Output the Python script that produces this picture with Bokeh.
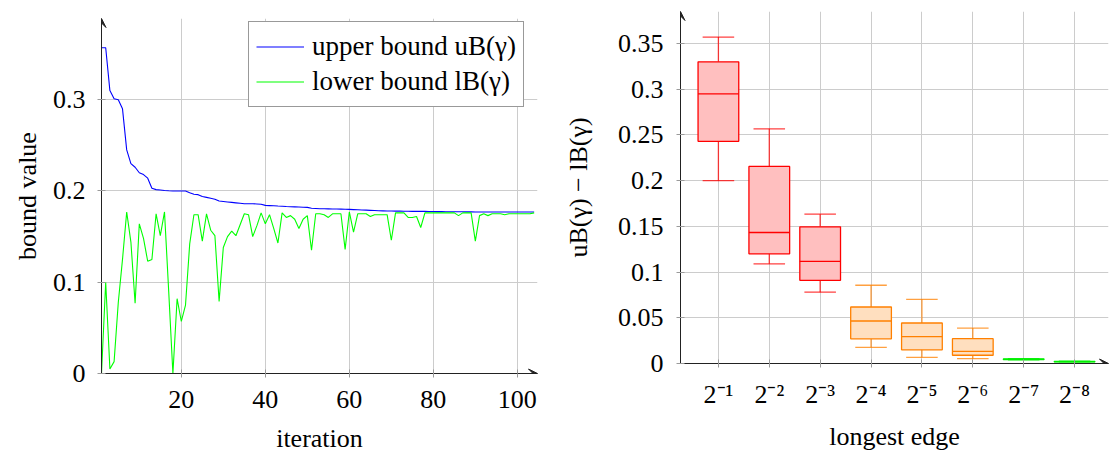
from bokeh.plotting import figure
from bokeh.layouts import row
from bokeh.models import (Legend, LegendItem, FixedTicker, NumeralTickFormatter,
                          Arrow, VeeHead, Range1d, ColumnDataSource)
from bokeh.embed import file_html
from bokeh.resources import INLINE
import sys

FONT = "Liberation Serif"

# ---------------- data: left chart ----------------
iterations = list(range(1, 105))
upper_bound = [
    0.357, 0.357, 0.310, 0.301, 0.300, 0.290, 0.245, 0.230, 0.226, 0.220,
    0.218, 0.214, 0.203, 0.2015, 0.201, 0.2005, 0.2002, 0.200, 0.200, 0.200,
    0.200, 0.198, 0.1965, 0.196, 0.194, 0.193, 0.192, 0.191, 0.189, 0.1885,
    0.188, 0.1875, 0.187, 0.1865, 0.186, 0.186, 0.186, 0.1858, 0.1855, 0.1842,
    0.184, 0.1838, 0.1835, 0.1833, 0.183, 0.1828, 0.1826, 0.1824, 0.1822, 0.182,
    0.181, 0.1808, 0.1806, 0.1805, 0.1804, 0.1803, 0.1802, 0.1801, 0.180, 0.1798,
    0.1796, 0.1794, 0.1792, 0.179, 0.1788, 0.1786, 0.1784, 0.1782, 0.178, 0.178,
    0.1779, 0.1779, 0.1778, 0.1778, 0.1777, 0.1777, 0.1776, 0.1776, 0.1775, 0.1775,
    0.1774, 0.1774, 0.1773, 0.1773, 0.1772, 0.1772, 0.1772, 0.1771, 0.1771, 0.177,
    0.177, 0.177, 0.177, 0.177, 0.177, 0.177, 0.177, 0.177, 0.177, 0.177,
    0.177, 0.177, 0.177, 0.177,
]
lower_bound = [
    0.0, 0.100, 0.005, 0.013, 0.078, 0.125, 0.177, 0.144, 0.077, 0.164,
    0.148, 0.123, 0.125, 0.175, 0.151, 0.177, 0.090, 0.0, 0.082, 0.057,
    0.075, 0.142, 0.174, 0.174, 0.145, 0.175, 0.157, 0.151, 0.079, 0.138,
    0.150, 0.156, 0.151, 0.163, 0.175, 0.174, 0.150, 0.162, 0.176, 0.164,
    0.174, 0.159, 0.143, 0.176, 0.171, 0.173, 0.169, 0.159, 0.169, 0.173,
    0.135, 0.175, 0.175, 0.174, 0.171, 0.175, 0.175, 0.175, 0.136, 0.177,
    0.155, 0.175, 0.175, 0.175, 0.172, 0.174, 0.174, 0.174, 0.174, 0.146,
    0.176, 0.176, 0.176, 0.171, 0.171, 0.172, 0.160, 0.176, 0.176, 0.176,
    0.176, 0.176, 0.176, 0.176, 0.176, 0.173, 0.176, 0.176, 0.176, 0.145,
    0.173, 0.175, 0.173, 0.175, 0.175, 0.175, 0.174, 0.175, 0.175, 0.175,
    0.175, 0.175, 0.175, 0.176,
]
left_xticks = [20, 40, 60, 80, 100]
left_yticks = [0, 0.1, 0.2, 0.3]

# ---------------- data: right chart ----------------
edge_pos = [1, 2, 3, 4, 5, 6, 7, 8]
edge_labels = ["2⁻¹", "2⁻²", "2⁻³", "2⁻⁴", "2⁻⁵", "2⁻⁶", "2⁻⁷", "2⁻⁸"]
whisker_low = [0.200, 0.109, 0.078, 0.0177, 0.0068, 0.0053, 0.0039, 0.0017]
q1 = [0.243, 0.120, 0.091, 0.027, 0.015, 0.009, 0.0043, 0.0019]
median = [0.295, 0.1433, 0.1116, 0.0465, 0.0293, 0.0133, 0.0046, 0.0021]
q3 = [0.330, 0.2155, 0.1495, 0.0618, 0.0443, 0.0271, 0.0049, 0.0023]
whisker_high = [0.357, 0.2567, 0.1633, 0.0856, 0.0702, 0.0388, 0.0052, 0.0025]
right_yticks = [0, 0.05, 0.1, 0.15, 0.2, 0.25, 0.3, 0.35]
line_colors = ["#ff0000"] * 3 + ["#ff8000"] * 3 + ["#00f000"] * 2
fill_colors = ["#ffbfbf"] * 3 + ["#ffdfbf"] * 3 + ["#bfffbf"] * 2


def style(p):
    p.outline_line_color = None
    p.background_fill_color = "white"
    p.border_fill_color = "white"
    for ax in (p.xaxis[0], p.yaxis[0]):
        ax.axis_line_color = "#222222"
        ax.axis_line_width = 1
        ax.major_tick_line_color = "#9a9a9a"
        ax.major_tick_in = 4
        ax.major_tick_out = 4
        ax.minor_tick_line_color = None
        ax.major_label_text_font = FONT
        ax.major_label_text_font_size = "26px"
        ax.major_label_text_color = "black"
        ax.axis_label_text_font = FONT
        ax.axis_label_text_font_size = "26px"
        ax.axis_label_text_font_style = "normal"
        ax.axis_label_text_color = "black"
    p.xgrid.grid_line_color = "#cccccc"
    p.ygrid.grid_line_color = "#cccccc"
    p.xgrid.grid_line_width = 1
    p.ygrid.grid_line_width = 1
    try:
        p.frame_align = False
    except Exception as e:
        print("frame_align not supported:", e, file=sys.stderr)


# ---------------- left figure ----------------
p1 = figure(width=560, height=455, x_range=Range1d(1, 104.8), y_range=Range1d(0, 0.389),
            output_backend="svg", toolbar_location=None,
            min_border_left=101, min_border_right=23, min_border_top=18, min_border_bottom=82)
style(p1)
p1.xaxis.ticker = FixedTicker(ticks=left_xticks)
p1.yaxis.ticker = FixedTicker(ticks=left_yticks)
p1.yaxis.formatter = NumeralTickFormatter(format="0.[00]")
p1.xaxis.axis_label = "iteration"
p1.yaxis.axis_label = "bound value"
p1.xaxis.major_label_standoff = 13
p1.yaxis.major_label_standoff = 12
p1.xaxis.axis_label_standoff = 13
p1.yaxis.axis_label_standoff = 8

r_up = p1.line(iterations, upper_bound, line_color="#0000ff", line_width=1.1)
r_lo = p1.line(iterations, lower_bound, line_color="#00ff00", line_width=1.1)

legend = Legend(items=[LegendItem(label="upper bound uB(γ)", renderers=[r_up]),
                       LegendItem(label="lower bound lB(γ)", renderers=[r_lo])],
                location=(147, 266))
legend.label_text_font = FONT
legend.label_text_font_size = "27px"
legend.label_text_color = "black"
legend.border_line_color = "#333333"
legend.border_line_width = 1.2
legend.background_fill_alpha = 1
legend.padding = 7
legend.spacing = 0
legend.margin = 0
legend.glyph_width = 48
legend.glyph_height = 35
legend.label_height = 35
legend.label_standoff = 8
p1.add_layout(legend)

p1.add_layout(Arrow(end=VeeHead(size=9, line_color="#222222", fill_color="#222222", line_width=1),
                    x_start=1, y_start=0.37, x_end=1, y_end=0.389,
                    line_color="#222222", line_width=1))
p1.add_layout(Arrow(end=VeeHead(size=9, line_color="#222222", fill_color="#222222", line_width=1),
                    x_start=100, y_start=0, x_end=104.8, y_end=0,
                    line_color="#222222", line_width=1))

# ---------------- right figure ----------------
p2 = figure(width=551, height=455, x_range=Range1d(0.255, 8.667), y_range=Range1d(0, 0.385),
            output_backend="svg", toolbar_location=None,
            min_border_left=119, min_border_right=3, min_border_top=11, min_border_bottom=92)
style(p2)
p2.xaxis.ticker = FixedTicker(ticks=edge_pos)
p2.xaxis.major_label_overrides = {pos: lab for pos, lab in zip(edge_pos, edge_labels)}
p2.yaxis.ticker = FixedTicker(ticks=right_yticks)
p2.yaxis.formatter = NumeralTickFormatter(format="0.[00]")
p2.xaxis.axis_label = "longest edge"
p2.yaxis.axis_label = "uB(γ) − lB(γ)"
p2.xaxis.major_label_standoff = 12
p2.yaxis.major_label_standoff = 13
p2.xaxis.axis_label_standoff = 10
p2.yaxis.axis_label_standoff = 22

src = ColumnDataSource(dict(x=edge_pos, lo=whisker_low, q1=q1, med=median, q3=q3, hi=whisker_high,
                            lc=line_colors, fc=fill_colors,
                            x0=[x - 0.4 for x in edge_pos], x1=[x + 0.4 for x in edge_pos],
                            c0=[x - 0.31 for x in edge_pos], c1=[x + 0.31 for x in edge_pos]))
# whiskers
p2.segment(x0="x", y0="q3", x1="x", y1="hi", source=src, line_color="lc", line_width=1.3, line_alpha=0.75)
p2.segment(x0="x", y0="lo", x1="x", y1="q1", source=src, line_color="lc", line_width=1.3, line_alpha=0.75)
p2.segment(x0="c0", y0="hi", x1="c1", y1="hi", source=src, line_color="lc", line_width=1.3, line_alpha=0.75)
p2.segment(x0="c0", y0="lo", x1="c1", y1="lo", source=src, line_color="lc", line_width=1.3, line_alpha=0.75)
# boxes
p2.quad(left="x0", right="x1", bottom="q1", top="q3", source=src,
        fill_color="fc", line_color="lc", line_width=1.3)
p2.segment(x0="x0", y0="med", x1="x1", y1="med", source=src, line_color="lc", line_width=1.3)

p2.add_layout(Arrow(end=VeeHead(size=9, line_color="#222222", fill_color="#222222", line_width=1),
                    x_start=0.255, y_start=0.37, x_end=0.255, y_end=0.385,
                    line_color="#222222", line_width=1))
p2.add_layout(Arrow(end=VeeHead(size=9, line_color="#222222", fill_color="#222222", line_width=1),
                    x_start=8.3, y_start=0, x_end=8.667, y_end=0,
                    line_color="#222222", line_width=1))

layout = row(p1, p2)
open("out.html", "w").write(file_html(layout, INLINE))
